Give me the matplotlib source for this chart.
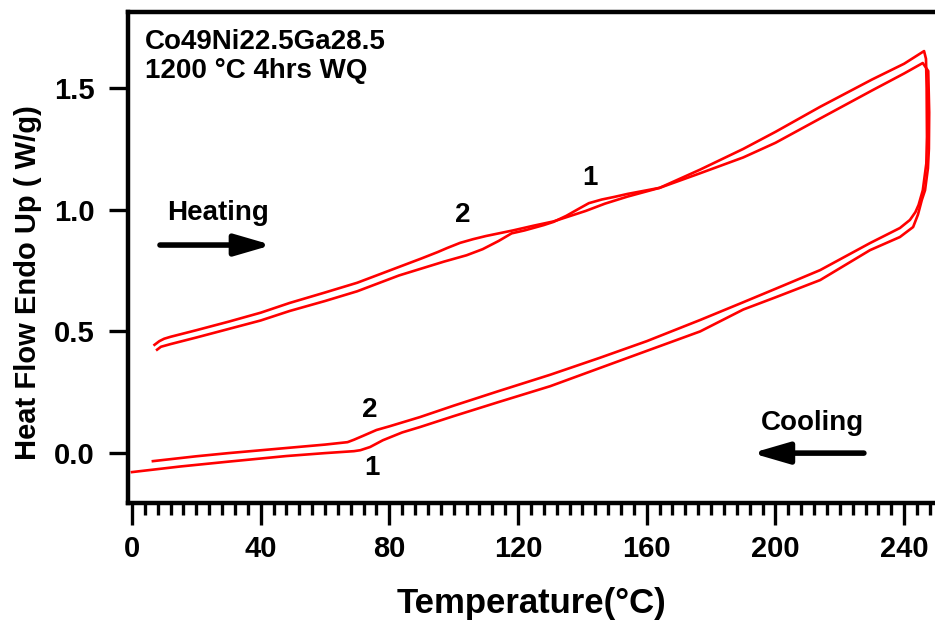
import matplotlib
matplotlib.use("Agg")
import matplotlib.pyplot as plt
import numpy as np

plt.rcParams['font.family'] = ['Liberation Sans', 'DejaVu Sans']
plt.rcParams['font.weight'] = 'bold'

# cycle 2 heating (transition near 100 C)
heat2_T = [7.0, 8.5, 10, 12, 20, 30, 40, 49, 60, 70, 83, 90, 95, 98, 102, 106, 110,
           118.4, 125, 131, 141, 147, 154, 164, 176.6, 190, 200, 213.9, 230, 240, 246.2]
heat2_Q = [0.445, 0.46, 0.47, 0.478, 0.505, 0.54, 0.577, 0.617, 0.66, 0.70, 0.765, 0.80,
           0.826, 0.843, 0.864, 0.879, 0.892, 0.915, 0.935, 0.952, 0.995, 1.025, 1.054,
           1.09, 1.165, 1.25, 1.32, 1.423, 1.535, 1.60, 1.652]
# cycle 1 heating (transition near 140 C)
heat1_T = [7.8, 9, 12, 20, 30, 40, 49, 60, 70, 83, 97, 104, 109, 114, 118, 122, 128,
           131, 135, 139, 142, 146, 150, 154, 164, 176.6, 190, 200, 213.9, 230, 240, 245.8]
heat1_Q = [0.425, 0.437, 0.448, 0.475, 0.51, 0.545, 0.584, 0.625, 0.665, 0.73, 0.787,
           0.813, 0.838, 0.872, 0.903, 0.915, 0.937, 0.95, 0.975, 1.005, 1.027, 1.042,
           1.053, 1.065, 1.09, 1.15, 1.215, 1.275, 1.375, 1.49, 1.56, 1.603]

# isothermal turn at top of the run
turn2_T = [246.8, 247.0, 247.1, 246.9, 245.8, 244.5, 243.5]
turn2_Q = [1.62, 1.50, 1.30, 1.19, 1.08, 1.02, 0.99]
turn1_T = [247.5, 247.8, 247.7, 247.4, 246.5, 245.5, 244.3]
turn1_Q = [1.57, 1.40, 1.25, 1.17, 1.08, 1.04, 0.98]

# cooling curves
cool2_T = [241.8, 238.7, 229.4, 213.9, 200, 190, 176.6, 160, 145.5, 130, 114, 100,
           89.5, 80, 76, 72, 69, 67, 60, 48, 30, 20, 6.5]
cool2_Q = [0.958, 0.925, 0.863, 0.752, 0.675, 0.62, 0.547, 0.46, 0.392, 0.322, 0.255,
           0.195, 0.148, 0.11, 0.095, 0.072, 0.055, 0.045, 0.035, 0.021, 0.0, -0.013, -0.033]
cool1_T = [242.8, 238.7, 229.4, 213.9, 200, 190, 176.6, 160, 145.5, 130, 114, 100,
           89.5, 84, 78, 74, 71, 69, 60, 48, 30, 15, 0]
cool1_Q = [0.929, 0.888, 0.834, 0.711, 0.64, 0.59, 0.50, 0.42, 0.35, 0.275, 0.21, 0.152,
           0.107, 0.085, 0.053, 0.025, 0.012, 0.008, 0.0, -0.012, -0.035, -0.055, -0.078]

fig = plt.figure(figsize=(9.35, 6.28), dpi=100)
ax = fig.add_axes([128 / 935, 125 / 628, 807 / 935, 491 / 628])

for hT, hQ, tT, tQ, cT, cQ in [(heat2_T, heat2_Q, turn2_T, turn2_Q, cool2_T, cool2_Q),
                               (heat1_T, heat1_Q, turn1_T, turn1_Q, cool1_T, cool1_Q)]:
    T = np.concatenate([hT, tT, cT])
    Q = np.concatenate([hQ, tQ, cQ])
    ax.plot(T, Q, color='#ff0000', lw=1.9, solid_joinstyle='round')

ax.set_xlim(-1.24, 249.6)
ax.set_ylim(-0.205, 1.8126)
ax.set_xticks(np.arange(0, 241, 40))
ax.set_xticks(np.arange(0, 249, 4), minor=True)
ax.set_yticks([0.0, 0.5, 1.0, 1.5])
ax.set_yticklabels(['0.0', '0.5', '1.0', '1.5'])

for s in ['left', 'bottom', 'top']:
    ax.spines[s].set_linewidth(3.2)
ax.spines['right'].set_visible(False)
ax.tick_params(axis='x', which='major', direction='out', length=16, width=2.4,
               labelsize=21, pad=7)
ax.tick_params(axis='x', which='minor', direction='out', length=8.5, width=2.4)
ax.tick_params(axis='y', which='major', direction='out', length=14, width=2.4,
               labelsize=21, pad=10)
for lbl in ax.get_xticklabels() + ax.get_yticklabels():
    lbl.set_fontweight('bold')

ax.set_xlabel('Temperature(°C)', fontsize=25, fontweight='bold')
ax.set_ylabel('Heat Flow Endo Up ( W/g)', fontsize=21, fontweight='bold')
ax.xaxis.label.set_va('center')
ax.yaxis.label.set_va('center')
ax.xaxis.set_label_coords(0.5, -0.205)
ax.yaxis.set_label_coords(-0.124, 0.448)

ax.text(0.021, 0.965, 'Co49Ni22.5Ga28.5\n1200 °C 4hrs WQ', transform=ax.transAxes,
        fontsize=20, fontweight='bold', va='top', ha='left', linespacing=1.15)

ax.text(26.7, 0.986, 'Heating', fontsize=20, fontweight='bold', ha='center', va='center')
ax.text(211.4, 0.123, 'Cooling', fontsize=20, fontweight='bold', ha='center', va='center')
arrow = dict(arrowstyle='-|>,head_length=1.1,head_width=0.32', lw=4, color='black',
             mutation_scale=20, shrinkA=0, shrinkB=0)
ax.annotate('', xy=(43.5, 0.855), xytext=(8.7, 0.855), arrowprops=arrow)
ax.annotate('', xy=(192.7, 0.0), xytext=(227.5, 0.0), arrowprops=arrow)

for x, y, s in [(102.9, 0.978, '2'), (142.4, 1.13, '1'), (74.0, 0.177, '2'), (74.6, -0.062, '1')]:
    ax.text(x, y, s, fontsize=20, fontweight='bold', ha='center', va='center')

fig.savefig('out.png', dpi=100)
